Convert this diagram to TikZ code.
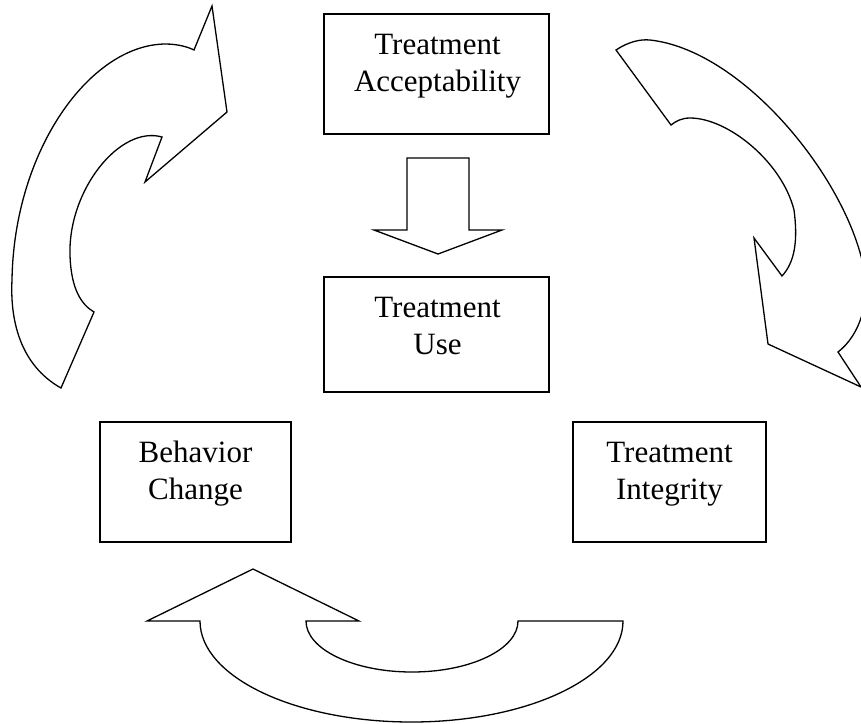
\documentclass[tikz,border=0pt]{standalone}
\usepackage{fontspec}
\setmainfont{Liberation Serif}
\begin{document}
\begin{tikzpicture}[x=1pt,y=-1pt,
  box/.style={draw=black,line width=1.7pt,inner sep=0pt},
  lbl/.style={align=center,inner sep=0pt,font=\fontsize{31}{37}\selectfont},
  blockarrow/.style={draw=black,line width=1.3pt,line join=miter,fill=white}]
\useasboundingbox (0,0) rectangle (861,723);
\clip (0,0) rectangle (861,723);
% boxes
\node[box,minimum width=225pt,minimum height=120pt] (acc) at (436.5,74) {};
\node[lbl,anchor=base] (acct) at (437.5,91) {Treatment\\Acceptability};
\node[box,minimum width=225pt,minimum height=115pt] (use) at (436.5,334.5) {};
\node[lbl,anchor=base] (uset) at (437.5,354) {Treatment\\Use};
\node[box,minimum width=191pt,minimum height=120pt] (beh) at (195.5,482) {};
\node[lbl,anchor=base] (beht) at (195.5,499) {Behavior\\Change};
\node[box,minimum width=193pt,minimum height=120pt] (int) at (669.5,482) {};
\node[lbl,anchor=base] (intt) at (669.5,499) {Treatment\\Integrity};
% down block arrow
\draw[blockarrow] (407,158) -- (469,158) -- (469,230) -- (502,230) -- (438,254)
  -- (374,230) -- (407,230) -- cycle;
% left curved arrow
\draw[blockarrow] (61,388) .. controls (20,365) and (10,320) .. (12,280)
  .. controls (14,150) and (90,45) .. (165,44)
  .. controls (178,44) and (188,47) .. (194,50)
  -- (212,6) -- (227,112) -- (145,182) -- (162,137)
  .. controls (120,125) and (68,190) .. (70,255)
  .. controls (71,290) and (82,305) .. (94,312) -- cycle;
% right curved arrow
\draw[blockarrow] (616,50) .. controls (628,42) and (640,39) .. (650,40)
  .. controls (740,50) and (840,170) .. (862,260)
  .. controls (872,300) and (860,335) .. (838,352)
  -- (861,387) -- (768,344) -- (754,238) -- (782,276)
  .. controls (795,262) and (798,240) .. (794,210)
  .. controls (782,162) and (728,118) .. (690,118)
  .. controls (682,118) and (676,121) .. (671,125) -- cycle;
% bottom curved arrow
\draw[blockarrow] (253,569) -- (359,621) -- (306,621)
  .. controls (306,649.2) and (353.5,672) .. (412,672)
  .. controls (470.5,672) and (518,649.2) .. (518,621)
  -- (623,621)
  .. controls (623,676.8) and (528.3,722) .. (411.5,722)
  .. controls (294.7,722) and (200,676.8) .. (200,621)
  -- (147,621) -- cycle;
\end{tikzpicture}
\end{document}
